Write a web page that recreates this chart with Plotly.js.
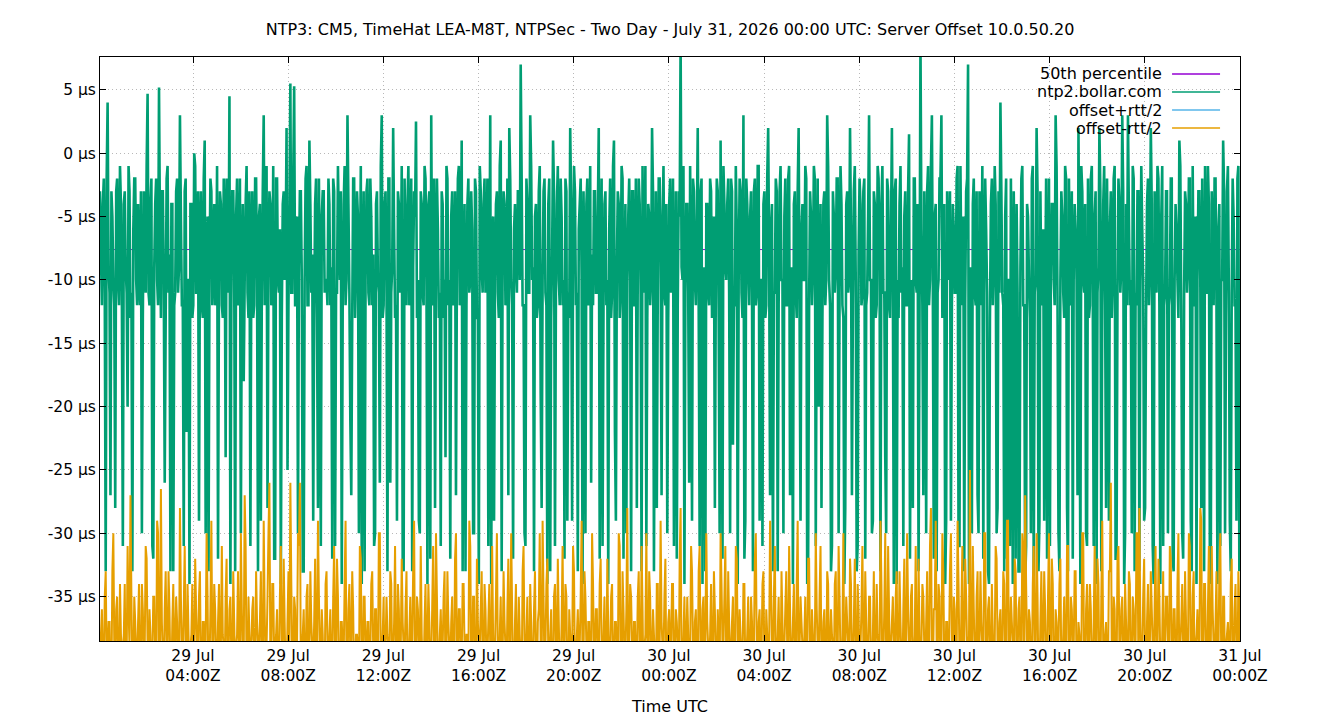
<!DOCTYPE html>
<html>
<head>
<meta charset="utf-8">
<script src="https://cdn.plot.ly/plotly-3.0.1.min.js"></script>
<style>html,body{margin:0;padding:0;background:#fff;}#chart{width:1340px;height:720px;}</style>
</head>
<body>
<div id="chart"></div>
<script>
// ---- data ----
const chartTitle = "NTP3: CM5, TimeHat LEA-M8T, NTPSec - Two Day - July 31, 2026 00:00 UTC: Server Offset 10.0.50.20";
const seriesNames = ["50th percentile", "ntp2.bollar.com", "offset+rtt/2", "offset-rtt/2"];
const startTimeUTC = "2026-07-29T00:05:30Z";
const sampleStepSeconds = 144;
const xRangeEnd = "2026-07-31 00:00:00";
const tickDates = ["2026-07-29 04:00","2026-07-29 08:00","2026-07-29 12:00","2026-07-29 16:00","2026-07-29 20:00","2026-07-30 00:00","2026-07-30 04:00","2026-07-30 08:00","2026-07-30 12:00","2026-07-30 16:00","2026-07-30 20:00","2026-07-31 00:00"];
const tickLabels = ["29 Jul<br>04:00Z","29 Jul<br>08:00Z","29 Jul<br>12:00Z","29 Jul<br>16:00Z","29 Jul<br>20:00Z","30 Jul<br>00:00Z","30 Jul<br>04:00Z","30 Jul<br>08:00Z","30 Jul<br>12:00Z","30 Jul<br>16:00Z","30 Jul<br>20:00Z","31 Jul<br>00:00Z"];
const yTicks = [-35,-30,-25,-20,-15,-10,-5,0,5];
const percentile50 = -7.6; // µs

// offset (µs), ntp2.bollar.com — even samples
const offsetUsEven = [
-3,-12,-2,-33,4,-11,-3,-10,-28,-2,-12,-4,-31,-3,-11,-1,-13,-33,-2,-10,
-4,-12,-30,-3,-11,4.7,-12,-2,-32,-4,-10,5.2,-13,-3,-26,-2,-11,-33,-4,-12,
-3,-11,3,-12,-31,-2,-10,-34,-4,-12,-1,-11,-29,-3,-13,1,-10,-33,-2,-12,
-4,-11,-32,-3,-12,-2,-24,-10,4.5,-12,-3,-33,-2,-11,-30,-4,-10,-1,-13,-31,
-3,-12,-2,-33,-4,-11,3,-10,-28,-3,-12,-1,-32,-2,-11,-34,-4,-10,2,-12,
5.5,-11,5.3,-12,-30,-3,-10,-33,-2,-12,1,-11,-29,-4,-13,-2,-31,-3,-11,-10,
-2,-12,-32,-3,-11,-1,-10,-34,-4,-12,3,-11,-27,-2,-13,-3,-30,-1,-10,-33,
-3,-11,-2,-12,-31,-4,-10,-26,3,-12,-3,-33,-2,-11,2,-13,-29,-4,-10,-32,
-2,-12,-1,-11,-33,-3,2.5,-10,-30,-4,-12,-2,-34,-3,3,-11,-28,-2,-13,-31,
-4,-10,-1,-12,-32,-3,-11,-27,-2,-12,1,-10,-33,-4,-11,-3,-30,-2,-13,-34,
-3,-11,-2,-10,-31,3,-12,-29,-4,-11,-1,-33,-3,-12,-2,2,-10,-32,-4,-11,
-3,7,-12,-30,-2,-11,3,-10,-33,-4,-12,-1,-28,-3,-11,-34,-2,-13,1,-31,
-4,-10,-2,-12,-32,-3,-11,2,-29,-1,-12,-33,-4,-10,-3,-30,-2,-11,-26,-12,
-3,-11,2,-10,-31,-4,-12,-34,-2,-11,1,-29,-3,-13,-1,-32,-4,-10,-2,-33,
-3,-12,-28,-2,-11,-1,-10,-31,-4,-12,2,-33,-3,-11,-2,-27,-1,-12,-30,-4,
-11,-2,-12,-32,-3,9,-10,-34,-4,-11,-1,-29,-3,-12,2,-31,-2,-10,-33,-4,
-12,-3,-11,-28,-2,-13,1,-32,-4,-10,-2,-30,-3,-12,-1,-34,-2,-11,3,-29,
-4,-12,-3,-33,-2,-11,-1,-10,-31,-3,-12,2,-27,-4,-11,-2,-33,-3,-10,-30,
-2,-12,-1,-11,-34,-3,-13,2,-29,-4,-10,-2,-32,-3,-12,-1,-31,-2,-11,-28,
-4,-12,3,-10,-33,-3,-11,-2,-30,-1,-12,-34,-4,-11,2,-27,-3,-10,-31,-2,
-12,-3,-32,-11,3,-10,-29,-4,-12,-2,-33,-1,-11,-30,-3,-13,2,-34,-2,-10,
-4,-11,-31,-3,-12,1.5,-10,-28,-2,-11,-33,9,-12,-3,-30,-1,-10,3,-32,-4,
-11,-2,3,-12,-34,-3,-10,-29,-4,-11,-2,-31,-1,-12,-33,-3,7,-11,-30,-2,
-12,-27,-3,-10,-32,-2,-11,-34,-4,-12,-1,-30,-3,4,-11,-33,-2,-10,-31,-13,
-3,-32,-11,-33,-2,-12,-34,-4,-10,-30,-1,-11,2,-33,-3,-12,-29,-2,-11,-31,
-4,-10,3,-12,-33,-3,-11,-1,-28,-2,-12,-32,-4,-10,2,-34,-3,-11,-30,-2,
-12,-1,-31,-3,-11,2,-33,-4,-12,-2,-29,-3,-10,-1,-32,-2,-11,3,-34,-4,
3,-12,-30,-2,-11,-3,-33,-1,-10,-28,-4,-12,2,-31,-3,-11,-2,-34,-1,-12,
-3,-30,-11,-2,-33,-4,-10,1,-12,-32,-3,-11,-2,-29,-1,-12,-34,-3,-10,-2,
-33,-11,-1,-31,-3,-12,-2,-34,-4,-10,1,-30,-3,-11,-33,-2,-12,-29,-1,-13
];
// offset (µs), ntp2.bollar.com — odd samples
const offsetUsOdd = [
-8,-4,-11,-2,-9,-27,-5,-12,-3,-10,-1,-12,-4,-9,-20,-3,-11,-6,-2,-12,
-10,-3,-13,-5,-1,-11,-4,-31,-9,-2,-12,-6,-3,-10,-13,-1,-8,-4,-33,-11,
-2,-9,-5,-12,-3,-22,-10,-4,-13,0,-11,-3,-7,-12,-2,-30,-5,-10,-3,-9,
-12,-1,-10,-4,-13,-6,-2,-11,-34,-3,-9,-5,-12,-2,-10,-18,-4,-11,-3,-8,
-13,-2,-10,-5,-29,-3,-12,-1,-9,-4,-11,-32,-2,-10,-6,-13,-3,-8,-25,-4,
-11,-2,-12,-5,-9,-3,-33,-10,-1,-12,-4,-8,-13,-2,-28,-11,-5,-3,-10,-12,
-4,-9,-2,-31,-11,-6,-3,-12,-1,-10,-4,-21,-13,-2,-9,-5,-11,-34,-3,-10,
-2,-12,-5,-8,-30,-3,-11,-1,-13,-4,-10,-2,-26,-9,-6,-12,-3,-11,-1,-33,
-10,-4,-12,-2,-9,-5,-13,-29,-3,-11,-1,-10,-4,-32,-12,-2,-8,-6,-11,-3,
-13,-24,-2,-10,-5,-12,-3,-9,-1,-11,-33,-4,-12,-2,-10,-6,-30,-3,-13,-1,
-9,-4,-11,-2,-12,-34,-5,-10,-3,-13,1,-8,-4,-11,-27,-2,-12,-6,-9,-3,
-10,-2,-12,-31,-4,-11,-1,-9,-5,-13,-3,-19,-10,-2,-12,-4,-33,-8,-3,-11,
-1,-12,-5,-10,-2,-29,-13,-4,-9,-3,-11,-6,-2,-34,-10,-4,-12,-1,-8,-3,
-11,-5,-32,-2,-12,-3,-10,-6,-13,-1,-22,-9,-4,-11,-2,-12,-30,-5,-10,-3,
-12,-2,-9,-4,-33,-11,-1,-13,-5,-10,-3,-12,-28,-2,-8,-6,-11,-4,-13,-2,
-10,-31,-3,-12,-5,-9,-1,-11,-4,-26,-13,-2,-10,-6,-12,-3,-34,-9,-4,-11,
-2,-13,-5,-10,-3,-30,-12,-1,-9,-4,-11,-2,-23,-12,-6,-10,-3,-13,-32,-2,
-9,-5,-11,-3,-12,-1,-29,-10,-4,-13,-2,-8,-6,-33,-11,-3,-12,-1,-10,-5,
-12,-2,-27,-9,-4,-11,-3,-13,-6,-10,-1,-34,-12,-5,-9,-2,-11,-20,-4,-13,
-3,-10,-1,-12,-31,-5,-9,-2,-11,-4,-13,-28,-3,-10,-6,-12,-1,-33,-8,-4,
-11,-2,-12,-5,-10,-30,-3,-13,-1,-9,-4,-11,-24,-2,-12,-6,-10,-3,-34,-13,
-1,-9,-5,-12,-3,-32,-11,-2,-10,-4,-13,-6,-27,-8,-3,-12,-1,-11,-5,-33,
-10,-2,-13,-4,-29,-9,-3,-12,-6,-11,-1,-31,-10,-5,-12,-2,-34,-9,-4,-11,
-3,-30,-12,-1,-10,-6,-33,-13,-2,-9,-4,-28,-11,-3,-12,-5,-32,-10,-2,-34,
-11,-4,-33,-9,-1,-12,-31,-5,-13,-2,-34,-10,-3,-29,-11,-6,-12,-32,-2,-9,
-4,-12,-1,-30,-10,-5,-13,-2,-33,-11,-3,-9,-6,-27,-12,-1,-10,-4,-31,-13,
-2,-11,-5,-34,-9,-3,-12,-1,-28,-10,-6,-13,-2,-32,-11,-4,-9,-3,-30,-12,
-5,-10,-1,-33,-12,-3,-11,-6,-29,-13,-2,-9,-4,-34,-10,-1,-12,-5,-31,-11,
-3,-12,-2,-32,-10,-6,-13,-1,-30,-11,-4,-9,-2,-33,-12,-5,-10,-3,-28,-13,
-1,-11,-4,-34,-9,-2,-12,-6,-31,-10,-3,-13,-1,-29,-11,-5,-12,-2,-33,-10
];

// offset - rtt/2 (µs) — even samples
const minusRttEven = [
-40,-36,-41,-33,-39,-37,-42,-30,-40,-35,-41,-38,-39,-34,-40,-36,-27,-41,-35,-40,
-37,-41,-34,-40,-31,-39,-36,-42,-35,-40,-29,-41,-26.5,-40,-36,-39,-33,-41,-37,-40,
-35,-42,-28,-40,-36,-39,-34,-41,-38,-40,-32,-39,-35,-41,-37,-40,-30,-42,-36,-39,
-34,-40,-37,-41,-31,-39,-35,-42,-36,-40,-33,-41,-38,-39,-30,-40,-27,-41,-35,-40,
-36,-42,-33,-39,-37,-40,-29,-41,-35,-26,-40,-34,-39,-36,-41,-31,-40,-37,-42,-33,
-26,-40,-35,-41,-30,-26,-39,-36,-42,-34,-40,-37,-41,-32,-39,-35,-40,-38,-42,-33,
-40,-36,-41,-31,-39,-35,-42,-37,-40,-29,-41,-34,-39,-36,-40,-38,-42,-32,-41,-35,
-39,-37,-40,-33,-42,-36,-41,-30,-40,-35,-39,-38,-41,-34,-40,-31,-42,-36,-39,-37,
-40,-33,-41,-35,-39,-29,-42,-36,-40,-38,-41,-34,-39,-37,-40,-31,-42,-35,-41,-36,
-39,-33,-40,-37,-41,-35,-42,-30,-39,-36,-40,-34,-41,-38,-29,-40,-35,-42,-32,-39,
-36,-41,-34,-40,-37,-39,-31,-42,-35,-40,-38,-41,-33,-39,-36,-40,-30,-42,-37,-41,
-35,-40,-33,-39,-38,-41,-34,-42,-36,-40,-37,-30,-41,-35,-39,-32,-40,-36,-42,-34,
-40,-37,-41,-31,-39,-35,-42,-38,-40,-33,-41,-36,-39,-29,-40,-35,-42,-37,-41,-34,
-39,-36,-40,-32,-42,-35,-41,-38,-39,-34,-40,-37,-41,-31,-42,-36,-40,-28,-39,-35,
-41,-37,-40,-33,-42,-36,-39,-30,-41,-35,-40,-38,-42,-34,-39,-37,-40,-32,-41,-36,
-39,-34,-40,-37,-42,-28,-41,-35,-39,-38,-40,-33,-42,-36,-41,-31,-40,-35,-39,-37,
-41,-34,-40,-36,-42,-38,-30,-39,-35,-41,-33,-40,-37,-42,-31,-39,-36,-40,-34,-41,
-38,-40,-35,-42,-32,-39,-37,-41,-34,-40,-36,-42,-29,-39,-35,-41,-38,-40,-33,-42,
-36,-39,-31,-41,-37,-40,-34,-42,-35,-39,-38,-41,-32,-40,-36,-42,-30,-39,-35,-41,
-37,-40,-33,-42,-36,-39,-34,-41,-31,-40,-38,-42,-35,-39,-32,-41,-37,-40,-34,-42,
-36,-39,-33,-41,-35,-40,-38,-42,-34,-39,-29,-41,-36,-40,-31,-42,-37,-39,-35,-41,
-33,-40,-36,-42,-30,-39,-35,-41,-38,-40,-32,-42,-34,-39,-37,-41,-31,-40,-36,-29,
-41,-35,-40,-33,-42,-37,-39,-30,-41,-36,-40,-34,-42,-31,-39,-35,-41,-25,-40,-36,
-42,-33,-39,-37,-41,-30,-40,-35,-42,-38,-39,-32,-41,-36,-40,-34,-42,-29,-39,-37,
-41,-33,-40,-35,-42,-31,-27,-39,-36,-41,-34,-40,-30,-42,-37,-39,-33,-41,-35,-40,
-32,-42,-36,-39,-34,-41,-38,-40,-31,-42,-35,-39,-33,-41,-37,-40,-30,-42,-36,-39,
-34,-41,-37,-40,-32,-42,-35,-39,-38,-41,-33,-26,-40,-36,-42,-31,-39,-35,-41,-37,
-40,-34,-42,-36,-39,-30,-28,-41,-35,-40,-37,-42,-33,-39,-36,-41,-32,-40,-38,-42,
-35,-39,-31,-41,-36,-40,-34,-42,-37,-39,-33,-41,-30,-40,-35,-42,-38,-39,-28,-41,
-34,-40,-36,-42,-31,-39,-37,-41,-33,-40,-35,-42,-38,-39,-34,-41,-36,-40,-33,-42
];
// offset - rtt/2 (µs) — odd samples
const minusRttOdd = [
-38,-41,-35,-40,-37,-42,-33,-39,-36,-41,-34,-40,-38,-42,-31,-39,-35,-41,-37,-40,
-34,-42,-36,-39,-32,-41,-38,-40,-35,-42,-30,-39,-37,-41,-33,-40,-36,-42,-34,-39,
-37,-41,-35,-40,-31,-42,-38,-39,-34,-41,-36,-40,-33,-42,-37,-39,-35,-41,-29,-40,
-36,-42,-34,-39,-38,-41,-32,-40,-35,-42,-37,-39,-33,-41,-36,-40,-31,-42,-38,-39,
-35,-41,-37,-40,-33,-42,-36,-39,-30,-41,-34,-40,-38,-42,-35,-39,-32,-41,-37,-40,
-34,-42,-36,-39,-31,-41,-38,-40,-35,-42,-33,-39,-37,-41,-29,-40,-36,-42,-34,-39,
-38,-41,-35,-40,-32,-42,-37,-39,-34,-41,-36,-40,-33,-42,-38,-39,-31,-41,-35,-40,
-37,-42,-34,-39,-36,-41,-30,-40,-38,-42,-35,-39,-33,-41,-37,-40,-34,-42,-32,-39,
-36,-41,-38,-40,-33,-42,-35,-39,-31,-41,-37,-40,-34,-42,-36,-39,-30,-41,-38,-40,
-35,-42,-33,-39,-37,-41,-32,-40,-36,-42,-34,-39,-38,-41,-31,-40,-35,-42,-37,-39,
-33,-41,-36,-40,-34,-42,-38,-39,-30,-41,-35,-40,-37,-42,-32,-39,-36,-41,-34,-40,
-38,-42,-31,-39,-35,-41,-37,-40,-33,-42,-36,-39,-29,-41,-34,-40,-38,-42,-35,-39,
-32,-41,-37,-40,-34,-42,-36,-39,-31,-41,-38,-40,-35,-42,-33,-39,-37,-41,-30,-40,
-36,-42,-34,-39,-38,-41,-32,-40,-35,-42,-37,-39,-30,-41,-33,-40,-36,-42,-34,-39,
-37,-41,-35,-40,-31,-42,-38,-39,-33,-41,-36,-40,-34,-42,-29,-39,-35,-41,-37,-40,
-34,-42,-36,-39,-32,-41,-38,-40,-35,-42,-31,-39,-37,-41,-33,-40,-36,-42,-30,-39,
-38,-41,-33,-40,-36,-42,-34,-39,-31,-41,-37,-40,-35,-42,-32,-39,-38,-41,-34,-40,
-35,-42,-37,-39,-30,-41,-36,-40,-33,-42,-38,-39,-34,-41,-31,-40,-35,-42,-37,-39,
-33,-41,-36,-40,-34,-42,-29,-39,-37,-41,-35,-40,-32,-42,-38,-39,-36,-41,-31,-40,
-36,-42,-34,-39,-38,-41,-33,-40,-35,-42,-30,-39,-37,-41,-34,-40,-32,-42,-36,-39,
-31,-41,-37,-40,-35,-42,-33,-39,-38,-41,-34,-40,-30,-42,-36,-39,-35,-41,-33,-40,
-37,-42,-32,-39,-36,-41,-34,-40,-31,-42,-38,-39,-35,-41,-33,-40,-28,-42,-36,-39,
-34,-41,-30,-40,-37,-42,-33,-39,-35,-41,-29,-40,-36,-42,-32,-39,-38,-41,-31,-40,
-35,-42,-33,-39,-30,-41,-36,-40,-34,-42,-31,-39,-37,-41,-33,-40,-29,-42,-35,-39,
-32,-41,-36,-40,-30,-42,-34,-39,-37,-41,-31,-40,-35,-42,-33,-39,-36,-41,-30,-40,
-34,-42,-37,-39,-32,-41,-35,-40,-31,-42,-36,-39,-33,-41,-38,-40,-30,-42,-34,-39,
-36,-41,-31,-40,-34,-42,-29,-39,-37,-41,-33,-40,-35,-42,-32,-39,-36,-41,-34,-40,
-33,-42,-35,-39,-30,-41,-37,-40,-32,-42,-34,-39,-36,-41,-31,-40,-35,-42,-33,-39,
-35,-41,-32,-40,-36,-42,-30,-39,-34,-41,-37,-40,-31,-42,-33,-39,-36,-41,-29,-40,
-34,-42,-31,-39,-36,-41,-33,-40,-30,-42,-35,-39,-37,-41,-32,-40,-34,-42,-36,-39
];

// offset + rtt/2 (µs), sparse samples (all above the plotted range)
const offsetPlusHalfRtt = [21,19,23,18,22,20,24,19,21,22,18,20,23,19,21,20,22,18,24,21,19,22,20,23,18,21,20,22,19,21];

// ---- build ----
function interleave(a, b){ const out = []; for (let i = 0; i < a.length; i++){ out.push(a[i]); if (i < b.length) out.push(b[i]); } return out; }
const offsetUs = interleave(offsetUsEven, offsetUsOdd);
const offsetMinusHalfRtt = interleave(minusRttEven, minusRttOdd);

const t0 = Date.parse(startTimeUTC);
function fmt(ms){ return new Date(ms).toISOString().slice(0,19).replace('T',' '); }
const times = offsetUs.map((_, i) => fmt(t0 + i*sampleStepSeconds*1000));
const plusStride = Math.floor(times.length / offsetPlusHalfRtt.length);
const timesPlus = offsetPlusHalfRtt.map((_, i) => times[Math.min(i*plusStride, times.length-1)]);
const xStart = fmt(t0);

const colors = ["#9400d3", "#009e73", "#56b4e9", "#e69f00"];
const FONT = "DejaVu Sans, Liberation Sans, sans-serif";

const traces = [
  {x:[times[0], times[times.length-1]], y:[percentile50, percentile50], type:'scatter', mode:'lines', line:{color:colors[0], width:1}, name:seriesNames[0], hoverinfo:'skip'},
  {x:times, y:offsetUs, type:'scatter', mode:'lines', line:{color:colors[1], width:2.6, simplify:false}, name:seriesNames[1]},
  {x:timesPlus, y:offsetPlusHalfRtt, type:'scatter', mode:'lines', line:{color:colors[2], width:1, simplify:false}, name:seriesNames[2]},
  {x:times, y:offsetMinusHalfRtt, type:'scatter', mode:'lines', line:{color:colors[3], width:2, simplify:false}, name:seriesNames[3]}
];

// gnuplot-style key: text right-aligned, sample line to the right
const keyY = [0.9709, 0.9401, 0.9092, 0.8784];
const annotations = seriesNames.map((n, i) => ({
  xref:'paper', yref:'paper', x:0.9333, y:keyY[i], xanchor:'right', yanchor:'middle',
  text:n, showarrow:false, font:{family:FONT, size:16, color:'#000'}
}));
const shapes = seriesNames.map((n, i) => ({
  type:'line', xref:'paper', yref:'paper', x0:0.9404, x1:0.9825, y0:keyY[i], y1:keyY[i],
  line:{color:colors[i], width:1.5}
}));

const gridStyle = {showgrid:true, gridcolor:'#b8b8b8', griddash:'1px,3px', gridwidth:1, zeroline:false};
const layout = {
  width:1340, height:720,
  margin:{l:100, r:100, t:57, b:79, pad:0},
  paper_bgcolor:'#fff', plot_bgcolor:'#fff',
  font:{family:FONT, size:15.5, color:'#000'},
  title:{text:chartTitle, x:0.5, xanchor:'center', y:1-29/720, yanchor:'middle', yref:'container', font:{family:FONT, size:16, color:'#000'}},
  showlegend:false,
  xaxis:Object.assign({
    type:'date', range:[xStart, xRangeEnd], tickmode:'array', tickvals:tickDates, ticktext:tickLabels,
    ticks:'inside', ticklen:6, tickcolor:'#000', mirror:'ticks', showline:true, linecolor:'#000', linewidth:1,
    tickfont:{family:FONT, size:15.5, color:'#000'}, tickangle:0,
    title:{text:'Time UTC', standoff:17, font:{family:FONT, size:16, color:'#000'}}
  }, gridStyle),
  yaxis:Object.assign({
    range:[-38.5, 7.6], tickmode:'array', tickvals:yTicks, ticktext:yTicks.map(v => v + ' µs'),
    ticks:'inside', ticklen:6, tickcolor:'#000', mirror:'ticks', showline:true, linecolor:'#000', linewidth:1,
    tickfont:{family:FONT, size:15.5, color:'#000'}
  }, gridStyle),
  annotations:annotations,
  shapes:shapes
};

Plotly.newPlot('chart', traces, layout, {staticPlot:true, displayModeBar:false});
</script>
</body>
</html>
